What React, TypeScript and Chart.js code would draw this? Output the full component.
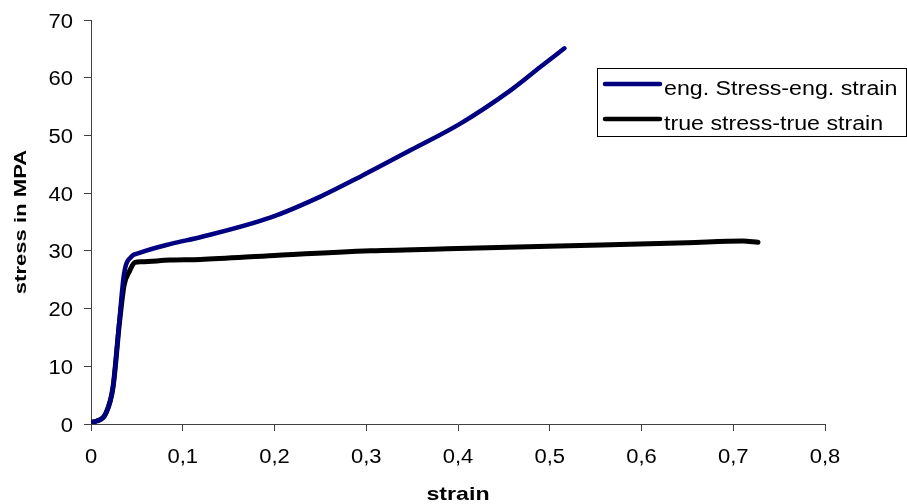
import React, { useEffect, useRef } from "react";
import { Chart, registerables } from "chart.js";

Chart.register(...registerables);

const engStrain = [0, 0.006, 0.016, 0.024, 0.031, 0.036, 0.044, 0.052, 0.087, 0.12, 0.196, 0.25, 0.294, 0.349, 0.403, 0.458, 0.49, 0.516];
const engStress = [0.3, 0.5, 1.8, 6.4, 18, 26, 29, 29.6, 31.2, 32.4, 35.8, 39.4, 42.9, 47.5, 52.1, 57.9, 61.9, 65.1];

const trueStrain = [0, 0.006, 0.016, 0.024, 0.031, 0.036, 0.042, 0.048, 0.055, 0.086, 0.119, 0.2, 0.305, 0.4, 0.556, 0.65, 0.71, 0.727];
const trueStress = [0.3, 0.5, 1.8, 6.4, 17.5, 24, 26.5, 28, 28.1, 28.4, 28.5, 29.2, 30.0, 30.4, 31.0, 31.4, 31.7, 31.5];

const seriesNames = ["eng. Stress-eng. strain", "true stress-true strain"];
const seriesColors = ["#000080", "#000000"];

const xTitle = "strain";
const yTitle = "stress in MPA";

const FONT = "Arial, 'Liberation Sans', sans-serif";

const fmtX = (v: number) => (Math.round(v * 10) / 10).toString().replace(".", ",");
const fmtY = (v: number) => String(Math.round(v));

function stretchedText(ctx: any, text: string, x: number, y: number, sx: number, align: string) {
  ctx.save();
  ctx.translate(x, y);
  ctx.scale(sx, 1);
  ctx.textAlign = align;
  ctx.fillText(text, 0, 0);
  ctx.restore();
}

const textPlugin = {
  id: "stretchedTexts",
  afterDraw(chart: any) {
    const { ctx, chartArea, scales } = chart;
    const xs = scales.x;
    const ys = scales.y;
    ctx.save();
    ctx.fillStyle = "#000000";
    ctx.textBaseline = "alphabetic";

    // tick labels
    ctx.font = `20px ${FONT}`;
    xs.ticks.forEach((t: any) => {
      const px = xs.getPixelForValue(t.value);
      stretchedText(ctx, fmtX(t.value), px, chartArea.bottom + 39, 1.1, "center");
    });
    ys.ticks.forEach((t: any) => {
      const py = ys.getPixelForValue(t.value);
      stretchedText(ctx, fmtY(t.value), chartArea.left - 18, py + 7.5, 1.1, "right");
    });

    // x title
    ctx.font = `bold 19px ${FONT}`;
    stretchedText(ctx, xTitle, (chartArea.left + chartArea.right) / 2, chartArea.bottom + 76, 1.22, "center");

    // y title
    ctx.save();
    ctx.font = `bold 17px ${FONT}`;
    ctx.translate(chartArea.left - 65, (chartArea.top + chartArea.bottom) / 2);
    ctx.rotate(-Math.PI / 2);
    ctx.scale(1.3, 1);
    ctx.textAlign = "center";
    ctx.fillText(yTitle, 0, 0);
    ctx.restore();

    // legend
    const left = chartArea.right - 228;
    const top = chartArea.top + 48;
    const w = 309;
    const h = 68;
    ctx.fillStyle = "#ffffff";
    ctx.fillRect(left, top, w, h);
    ctx.strokeStyle = "#000000";
    ctx.lineWidth = 1;
    ctx.strokeRect(left + 0.5, top + 0.5, w, h);
    ctx.font = `20px ${FONT}`;
    const rows = [top + 16, top + 51];
    seriesNames.forEach((name, i) => {
      const y = rows[i];
      ctx.strokeStyle = seriesColors[i];
      ctx.lineWidth = 4.5;
      ctx.lineCap = "round";
      ctx.beginPath();
      ctx.moveTo(left + 8, y);
      ctx.lineTo(left + 63, y);
      ctx.stroke();
      ctx.fillStyle = "#000000";
      stretchedText(ctx, name, left + 67, y + 10.5, 1.16, "left");
    });
    ctx.restore();
  },
};

export default function App() {
  const ref = useRef<HTMLCanvasElement | null>(null);

  useEffect(() => {
    document.body.style.margin = "0";
    const canvas = ref.current;
    if (!canvas) return;
    const toPts = (xs: number[], ys: number[]) => xs.map((x, i) => ({ x, y: ys[i] }));
    const chart = new Chart(canvas, {
      type: "scatter",
      data: {
        datasets: [
          {
            label: seriesNames[0],
            data: toPts(engStrain, engStress),
            showLine: true,
            borderColor: seriesColors[0],
            backgroundColor: seriesColors[0],
            borderWidth: 4.5,
            pointRadius: 0,
            cubicInterpolationMode: "monotone",
            borderCapStyle: "round",
            borderJoinStyle: "round",
          },
          {
            label: seriesNames[1],
            data: toPts(trueStrain, trueStress),
            showLine: true,
            borderColor: seriesColors[1],
            backgroundColor: seriesColors[1],
            borderWidth: 5,
            pointRadius: 0,
            cubicInterpolationMode: "monotone",
            borderCapStyle: "round",
            borderJoinStyle: "round",
          },
        ],
      },
      options: {
        animation: false,
        responsive: false,
        devicePixelRatio: 1,
        layout: { padding: { top: 20, right: 82, left: 0, bottom: 0 } },
        plugins: { legend: { display: false }, tooltip: { enabled: false } },
        scales: {
          x: {
            type: "linear",
            min: 0,
            max: 0.8,
            afterFit: (s: any) => { s.height = 80; },
            ticks: { stepSize: 0.1, display: false },
            grid: { drawOnChartArea: false, drawTicks: true, tickLength: 7, color: "#404040" },
            border: { display: true, color: "#404040", width: 1 },
          },
          y: {
            type: "linear",
            min: 0,
            max: 70,
            afterFit: (s: any) => { s.width = 91; },
            ticks: { stepSize: 10, display: false },
            grid: { drawOnChartArea: false, drawTicks: true, tickLength: 7, color: "#404040" },
            border: { display: true, color: "#404040", width: 1 },
          },
        },
      },
      plugins: [textPlugin],
    });
    return () => chart.destroy();
  }, []);

  return (
    <div style={{ position: "fixed", left: 0, top: 0, width: 907, height: 504, background: "#ffffff" }}>
      <canvas ref={ref} width={907} height={504} style={{ width: 907, height: 504, display: "block" }} />
    </div>
  );
}
